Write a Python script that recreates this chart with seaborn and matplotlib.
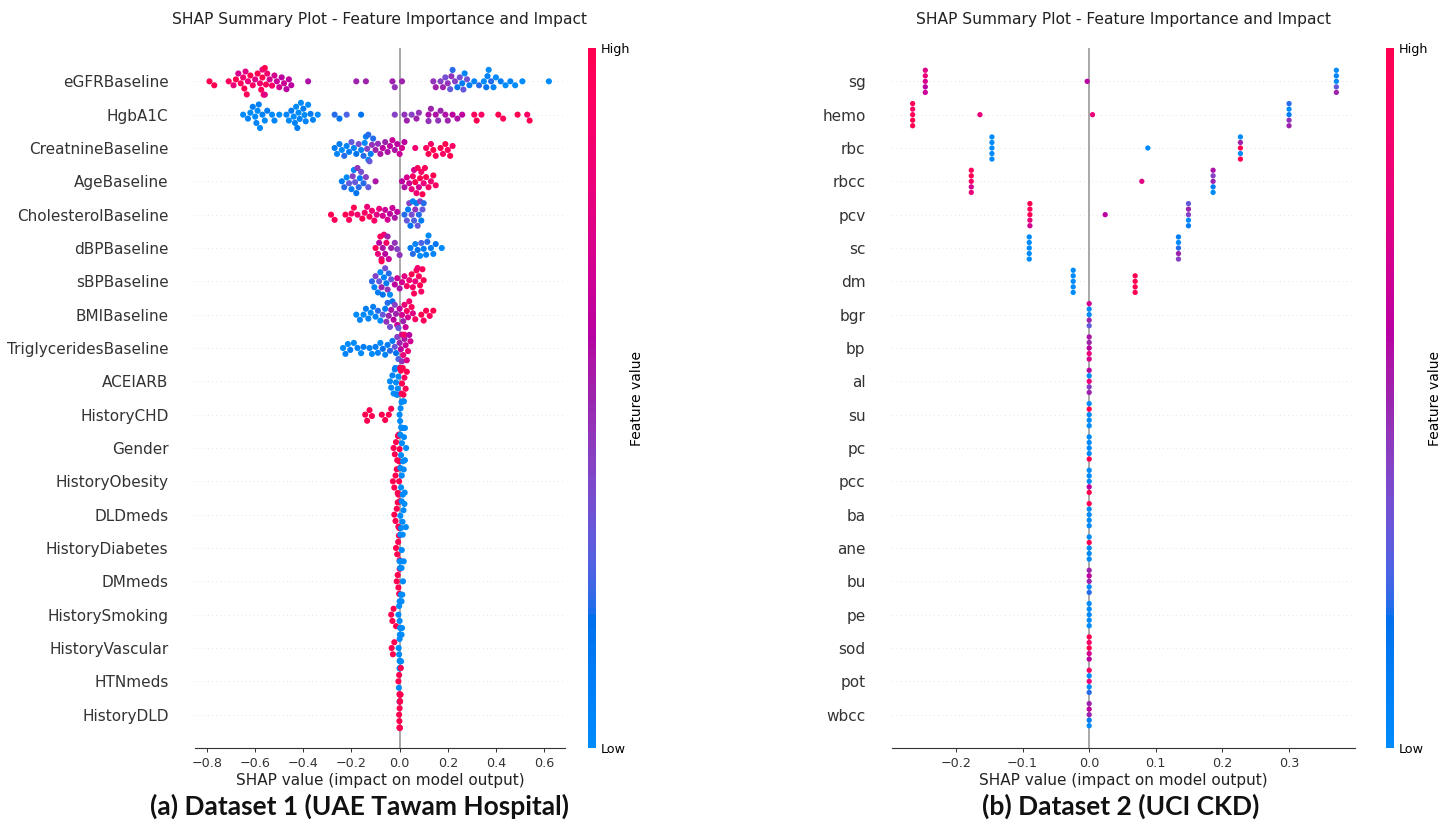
import warnings
warnings.filterwarnings("ignore")
import numpy as np
import pandas as pd
import matplotlib
matplotlib.use("Agg")
import matplotlib.pyplot as plt
import seaborn as sns
from matplotlib.colors import ListedColormap, Normalize
from matplotlib.cm import ScalarMappable

plt.rcParams["font.family"] = ["DejaVu Sans"]

# ---------------- Dataset 1 (UAE Tawam Hospital): (shap value, feature value 0=low..1=high)
features1 = ["eGFRBaseline", "HgbA1C", "CreatnineBaseline", "AgeBaseline", "CholesterolBaseline",
             "dBPBaseline", "sBPBaseline", "BMIBaseline", "TriglyceridesBaseline", "ACEIARB",
             "HistoryCHD", "Gender", "HistoryObesity", "DLDmeds", "HistoryDiabetes", "DMmeds",
             "HistorySmoking", "HistoryVascular", "HTNmeds", "HistoryDLD"]

egfr = [(-0.79, 1.0), (-0.77, 1.0), (-0.71, 0.95), (-0.69, 0.8), (-0.68, 1.0), (-0.67, 0.7),
        (-0.66, 0.95), (-0.65, 0.85), (-0.645, 1.0), (-0.64, 0.75), (-0.635, 0.95), (-0.63, 0.8),
        (-0.62, 1.0), (-0.61, 0.9), (-0.60, 0.75), (-0.59, 1.0), (-0.58, 0.85), (-0.575, 0.95),
        (-0.57, 1.0), (-0.57, 0.8), (-0.565, 0.9), (-0.56, 1.0), (-0.56, 0.75), (-0.555, 0.95),
        (-0.55, 0.85), (-0.54, 0.7), (-0.53, 0.9), (-0.52, 0.7), (-0.51, 0.65), (-0.50, 0.7),
        (-0.49, 0.6), (-0.48, 0.65), (-0.47, 0.6), (-0.46, 0.62), (-0.45, 0.6), (-0.38, 0.55),
        (-0.18, 0.5), (-0.14, 0.5), (-0.03, 0.5), (-0.02, 0.45), (0.01, 0.5),
        (0.14, 0.45), (0.15, 0.5), (0.17, 0.4), (0.18, 0.5), (0.19, 0.35), (0.20, 0.45),
        (0.21, 0.3), (0.215, 0.45), (0.22, 0.2), (0.23, 0.4), (0.24, 0.15), (0.25, 0.35),
        (0.26, 0.1), (0.265, 0.3), (0.27, 0.05), (0.28, 0.35), (0.29, 0.1), (0.31, 0.05),
        (0.33, 0.2), (0.35, 0.0), (0.36, 0.15), (0.365, 0.05), (0.37, 0.0), (0.38, 0.2),
        (0.39, 0.05), (0.40, 0.0), (0.42, 0.1), (0.44, 0.0), (0.46, 0.05), (0.48, 0.0),
        (0.51, 0.0), (0.62, 0.0)]
hgba1c = [(-0.65, 0.0), (-0.63, 0.05), (-0.62, 0.0), (-0.61, 0.1), (-0.60, 0.0), (-0.595, 0.05),
          (-0.59, 0.0), (-0.585, 0.1), (-0.58, 0.0), (-0.57, 0.05), (-0.56, 0.0), (-0.55, 0.1),
          (-0.53, 0.0), (-0.52, 0.05), (-0.50, 0.0), (-0.47, 0.05), (-0.46, 0.0), (-0.45, 0.1),
          (-0.44, 0.0), (-0.435, 0.05), (-0.43, 0.0), (-0.425, 0.1), (-0.42, 0.0), (-0.415, 0.05),
          (-0.41, 0.0), (-0.40, 0.1), (-0.395, 0.0), (-0.39, 0.05), (-0.38, 0.0), (-0.37, 0.1),
          (-0.36, 0.05), (-0.34, 0.0), (-0.27, 0.2), (-0.25, 0.15), (-0.22, 0.25), (-0.16, 0.15),
          (-0.02, 0.4), (0.02, 0.45), (0.03, 0.5), (0.05, 0.4), (0.07, 0.5), (0.08, 0.45),
          (0.12, 0.55), (0.12, 0.45), (0.13, 0.5), (0.15, 0.55), (0.16, 0.45), (0.17, 0.5),
          (0.19, 0.55), (0.20, 0.5), (0.22, 0.6), (0.24, 0.55), (0.26, 0.6), (0.31, 0.95),
          (0.32, 1.0), (0.34, 0.9), (0.41, 1.0), (0.43, 0.95), (0.49, 1.0), (0.53, 0.9), (0.54, 1.0)]
creat = [(-0.27, 0.1), (-0.26, 0.05), (-0.25, 0.1), (-0.24, 0.0), (-0.23, 0.2), (-0.22, 0.05),
         (-0.21, 0.1), (-0.20, 0.3), (-0.19, 0.05), (-0.18, 0.15), (-0.17, 0.35), (-0.16, 0.05),
         (-0.15, 0.2), (-0.145, 0.0), (-0.14, 0.1), (-0.135, 0.4), (-0.13, 0.05), (-0.13, 0.2),
         (-0.125, 0.3), (-0.12, 0.1), (-0.115, 0.45), (-0.11, 0.2), (-0.10, 0.5), (-0.09, 0.45),
         (-0.08, 0.55), (-0.07, 0.6), (-0.06, 0.5), (-0.05, 0.55), (-0.04, 0.6), (-0.03, 0.65),
         (-0.02, 0.55), (-0.01, 0.6), (0.0, 0.65), (0.01, 0.7), (0.02, 0.6), (0.065, 0.85),
         (0.11, 0.95), (0.12, 1.0), (0.13, 0.9), (0.14, 1.0), (0.15, 0.95), (0.17, 1.0),
         (0.18, 0.9), (0.19, 1.0), (0.20, 0.95), (0.21, 1.0), (0.22, 0.9)]
age = [(-0.24, 0.1), (-0.23, 0.2), (-0.22, 0.0), (-0.21, 0.3), (-0.20, 0.1), (-0.195, 0.4),
       (-0.19, 0.05), (-0.185, 0.3), (-0.18, 0.15), (-0.175, 0.45), (-0.17, 0.2), (-0.165, 0.1),
       (-0.16, 0.35), (-0.15, 0.2), (-0.14, 0.4), (-0.13, 0.3), (-0.10, 0.55), (0.01, 0.6),
       (0.02, 0.55), (0.03, 0.7), (0.04, 0.65), (0.05, 0.8), (0.055, 0.9), (0.06, 0.7),
       (0.065, 1.0), (0.07, 0.85), (0.075, 0.95), (0.08, 0.7), (0.085, 1.0), (0.09, 0.9),
       (0.095, 1.0), (0.10, 0.8), (0.105, 0.95), (0.11, 1.0), (0.12, 0.9), (0.13, 0.85),
       (0.14, 1.0), (0.15, 0.9)]
chol = [(-0.285, 1.0), (-0.27, 0.95), (-0.225, 1.0), (-0.21, 0.95), (-0.20, 0.9), (-0.19, 1.0),
        (-0.175, 0.85), (-0.155, 1.0), (-0.145, 0.9), (-0.135, 0.8), (-0.125, 0.95), (-0.115, 0.85),
        (-0.105, 0.9), (-0.095, 0.75), (-0.085, 0.8), (-0.07, 0.7), (-0.06, 0.65), (-0.05, 0.7),
        (-0.04, 0.6), (-0.03, 0.65), (-0.02, 0.55), (-0.01, 0.6), (0.02, 0.2), (0.03, 0.3),
        (0.035, 0.1), (0.04, 0.4), (0.045, 0.15), (0.05, 0.35), (0.055, 0.05), (0.06, 0.25),
        (0.065, 0.45), (0.07, 0.1), (0.075, 0.3), (0.08, 0.2), (0.085, 0.4), (0.09, 0.1),
        (0.095, 0.3), (0.10, 0.2)]
dbp = [(-0.10, 1.0), (-0.09, 0.8), (-0.085, 0.6), (-0.08, 0.95), (-0.075, 0.7), (-0.075, 1.0),
       (-0.07, 0.55), (-0.065, 0.85), (-0.06, 0.6), (-0.055, 0.9), (-0.05, 0.5), (-0.045, 0.65),
       (-0.035, 0.5), (-0.02, 0.45), (-0.01, 0.4), (0.0, 0.45), (0.045, 0.1), (0.055, 0.2),
       (0.065, 0.05), (0.075, 0.15), (0.085, 0.0), (0.09, 0.25), (0.10, 0.1), (0.11, 0.05),
       (0.115, 0.2), (0.12, 0.0), (0.13, 0.1), (0.14, 0.05), (0.15, 0.15), (0.175, 0.0)]
sbp = [(-0.115, 0.2), (-0.105, 0.05), (-0.10, 0.4), (-0.09, 0.1), (-0.085, 0.3), (-0.08, 0.0),
       (-0.075, 0.5), (-0.07, 0.15), (-0.065, 0.05), (-0.06, 0.35), (-0.055, 0.1), (-0.05, 0.45),
       (-0.045, 0.2), (-0.04, 0.0), (-0.035, 0.3), (-0.02, 0.6), (-0.01, 0.65), (0.0, 0.55),
       (0.01, 0.7), (0.02, 0.75), (0.03, 0.9), (0.04, 0.85), (0.05, 1.0), (0.055, 0.9),
       (0.06, 0.95), (0.065, 0.8), (0.07, 1.0), (0.075, 0.85), (0.08, 0.95), (0.085, 1.0),
       (0.09, 0.9), (0.095, 0.95), (0.10, 1.0)]
bmi = [(-0.18, 0.0), (-0.165, 0.05), (-0.15, 0.0), (-0.14, 0.1), (-0.13, 0.05), (-0.12, 0.0),
       (-0.11, 0.1), (-0.10, 0.05), (-0.09, 0.2), (-0.08, 0.0), (-0.07, 0.3), (-0.06, 0.1),
       (-0.055, 0.45), (-0.05, 0.2), (-0.045, 0.5), (-0.04, 0.35), (-0.035, 0.55), (-0.03, 0.15),
       (-0.025, 0.6), (-0.02, 0.4), (-0.015, 0.5), (-0.01, 0.65), (-0.005, 0.3), (0.0, 0.6),
       (0.01, 0.7), (0.015, 0.5), (0.02, 0.8), (0.025, 0.65), (0.03, 0.9), (0.035, 0.7),
       (0.04, 0.85), (0.05, 0.95), (0.055, 0.75), (0.065, 0.9), (0.09, 1.0), (0.10, 0.95),
       (0.11, 1.0), (0.125, 0.95), (0.14, 1.0)]
trig = [(-0.235, 0.0), (-0.225, 0.05), (-0.215, 0.0), (-0.205, 0.1), (-0.19, 0.0), (-0.175, 0.05),
        (-0.16, 0.0), (-0.15, 0.1), (-0.125, 0.05), (-0.115, 0.0), (-0.10, 0.1), (-0.09, 0.05),
        (-0.08, 0.0), (-0.07, 0.15), (-0.06, 0.05), (-0.05, 0.1), (-0.04, 0.2), (-0.03, 0.1),
        (-0.02, 0.3), (-0.015, 0.15), (-0.01, 0.4), (-0.005, 0.25), (0.0, 0.5), (0.005, 0.6),
        (0.01, 0.7), (0.01, 0.45), (0.015, 0.8), (0.02, 0.55), (0.02, 0.9), (0.025, 0.65),
        (0.03, 0.75), (0.035, 0.85), (0.04, 0.6), (0.045, 0.7)]
aceiarb = [(-0.04, 0.0), (-0.035, 0.0), (-0.03, 0.05), (-0.025, 0.0), (-0.02, 0.0), (-0.018, 0.1),
           (-0.015, 0.0), (-0.012, 0.0), (-0.01, 0.05), (-0.008, 0.0), (-0.005, 0.0), (-0.003, 0.0),
           (0.002, 1.0), (0.005, 1.0), (0.008, 0.95), (0.01, 1.0), (0.013, 1.0), (0.016, 1.0),
           (0.02, 0.95), (0.025, 1.0), (0.03, 1.0)]
hist_chd = [(-0.143, 1.0), (-0.135, 1.0), (-0.125, 1.0), (-0.115, 1.0), (-0.074, 1.0), (-0.06, 1.0),
            (-0.045, 1.0), (-0.035, 1.0), (0.0, 0.0), (0.002, 0.0), (0.004, 0.0), (0.006, 0.0),
            (0.008, 0.0), (0.01, 0.0), (0.012, 0.0), (0.015, 0.0), (0.018, 0.0), (0.022, 0.0)]
gender = [(-0.025, 1.0), (-0.02, 1.0), (-0.015, 1.0), (-0.01, 1.0), (-0.007, 1.0), (-0.004, 1.0),
          (-0.002, 1.0), (0.0, 1.0), (0.003, 0.0), (0.006, 0.0), (0.01, 0.0), (0.014, 0.0),
          (0.018, 0.0), (0.022, 0.0), (0.027, 0.0)]
hist_obesity = [(-0.028, 1.0), (-0.022, 1.0), (-0.017, 1.0), (-0.012, 1.0), (-0.008, 1.0),
                (-0.005, 1.0), (-0.002, 1.0), (0.001, 1.0), (0.003, 0.0), (0.006, 0.0),
                (0.009, 0.0), (0.013, 0.0), (0.017, 0.0), (0.021, 0.0)]
dld_meds = [(-0.022, 1.0), (-0.017, 1.0), (-0.012, 1.0), (-0.008, 1.0), (-0.005, 1.0), (-0.002, 1.0),
            (0.0, 1.0), (0.003, 0.0), (0.006, 0.0), (0.009, 0.0), (0.012, 0.0), (0.016, 0.0),
            (0.02, 0.0), (0.026, 0.0)]
hist_diabetes = [(-0.015, 1.0), (-0.01, 1.0), (-0.006, 1.0), (-0.003, 1.0), (0.0, 1.0), (0.0, 0.0),
                 (0.003, 0.0), (0.006, 0.0), (0.009, 0.0), (0.013, 0.0), (0.017, 0.0)]
dm_meds = [(-0.012, 1.0), (-0.008, 1.0), (-0.005, 1.0), (-0.002, 1.0), (0.0, 1.0), (0.002, 0.0),
           (0.005, 0.0), (0.008, 0.0), (0.011, 0.0), (0.014, 0.0)]
hist_smoking = [(-0.035, 1.0), (-0.03, 1.0), (-0.025, 1.0), (-0.015, 1.0), (-0.005, 0.0),
                (-0.002, 0.0), (0.0, 0.0), (0.0, 0.0), (0.002, 0.0), (0.004, 0.0), (0.006, 0.0),
                (0.008, 0.0), (0.01, 0.0)]
hist_vascular = [(-0.033, 1.0), (-0.028, 1.0), (-0.022, 1.0), (-0.004, 0.0), (-0.002, 0.0),
                 (0.0, 0.0), (0.0, 0.0), (0.001, 0.0), (0.002, 0.0), (0.004, 0.0), (0.006, 0.0),
                 (0.008, 0.0)]
htn_meds = [(-0.005, 1.0), (-0.003, 0.0), (-0.002, 1.0), (0.0, 1.0), (0.0, 0.0), (0.0, 1.0),
            (0.001, 0.0), (0.002, 1.0), (0.003, 0.0), (0.004, 1.0), (0.005, 1.0)]
hist_dld = [(-0.002, 1.0), (-0.001, 1.0), (0.0, 1.0), (0.0, 1.0), (0.0, 1.0), (0.0, 0.0),
            (0.0, 1.0), (0.001, 1.0), (0.001, 1.0), (0.002, 1.0)]

# ---------------- Dataset 2 (UCI CKD)
features2 = ["sg", "hemo", "rbc", "rbcc", "pcv", "sc", "dm", "bgr", "bp", "al", "su", "pc",
             "pcc", "ba", "ane", "bu", "pe", "sod", "pot", "wbcc"]
sg = [(-0.246, 0.7), (-0.246, 0.6), (-0.246, 0.8), (-0.246, 0.65), (-0.246, 0.75), (-0.003, 0.6),
      (0.371, 0.0), (0.371, 0.3), (0.371, 0.05), (0.371, 0.5), (0.371, 0.0)]
hemo = [(-0.265, 0.95), (-0.265, 1.0), (-0.265, 0.9), (-0.265, 1.0), (-0.265, 0.95), (-0.164, 0.8),
        (0.005, 0.8), (0.30, 0.1), (0.30, 0.45), (0.30, 0.0), (0.30, 0.5), (0.30, 0.2)]
rbc = [(-0.146, 0.0), (-0.146, 0.0), (-0.146, 0.0), (-0.146, 0.0), (-0.146, 0.0), (0.088, 0.0),
       (0.227, 1.0), (0.227, 0.0), (0.227, 0.5), (0.227, 1.0), (0.227, 0.0)]
rbcc = [(-0.177, 0.9), (-0.177, 0.7), (-0.177, 1.0), (-0.177, 0.8), (-0.177, 0.95), (0.079, 0.75),
        (0.186, 0.5), (0.186, 0.1), (0.186, 0.4), (0.186, 0.0), (0.186, 0.55)]
pcv = [(-0.089, 1.0), (-0.089, 0.8), (-0.089, 0.95), (-0.089, 0.7), (-0.089, 1.0), (0.024, 0.6),
       (0.149, 0.4), (0.149, 0.0), (0.149, 0.5), (0.149, 0.1), (0.149, 0.3)]
sc = [(-0.09, 0.0), (-0.09, 0.0), (-0.09, 0.0), (-0.09, 0.0), (-0.09, 0.0),
      (0.134, 0.2), (0.134, 0.5), (0.134, 0.0), (0.134, 0.4), (0.134, 0.1)]
dm = [(-0.024, 0.0), (-0.024, 0.0), (-0.024, 0.0), (-0.024, 0.0), (-0.024, 0.0),
      (0.069, 1.0), (0.069, 1.0), (0.069, 1.0), (0.069, 1.0)]
bgr = [(0.0, 0.0), (0.0, 0.5), (0.0, 0.0), (0.0, 0.7), (0.0, 0.3)]
bp = [(0.0, 0.6), (0.0, 0.8), (0.0, 0.5), (0.0, 0.7), (0.0, 0.55)]
al = [(0.0, 0.8), (0.0, 0.4), (0.0, 0.0), (0.0, 0.5), (0.0, 0.6)]
su = [(0.0, 0.0), (0.0, 0.0), (0.0, 1.0), (0.0, 0.0), (0.0, 0.0)]
pc = [(0.0, 0.0), (0.0, 0.0), (0.0, 0.0), (0.0, 1.0), (0.0, 0.0)]
pcc = [(0.0, 0.0), (0.0, 0.6), (0.0, 0.0), (0.0, 1.0), (0.0, 0.0)]
ba = [(0.0, 0.0), (0.0, 0.0), (0.0, 0.0), (0.0, 0.0), (0.0, 1.0)]
ane = [(0.0, 0.0), (0.0, 0.0), (0.0, 1.0), (0.0, 0.0), (0.0, 0.0)]
bu = [(0.0, 0.5), (0.0, 0.0), (0.0, 0.6), (0.0, 0.2), (0.0, 0.5)]
pe = [(0.0, 0.0), (0.0, 0.0), (0.0, 0.0), (0.0, 0.0), (0.0, 0.0)]
sod = [(0.0, 1.0), (0.0, 0.7), (0.0, 0.9), (0.0, 0.6), (0.0, 1.0)]
pot = [(0.0, 0.8), (0.0, 0.0), (0.0, 0.0), (0.0, 0.2), (0.0, 0.9)]
wbcc = [(0.0, 0.5), (0.0, 0.1), (0.0, 0.6), (0.0, 0.0), (0.0, 0.5)]

captions = ["(a) Dataset 1 (UAE Tawam Hospital)", "(b) Dataset 2 (UCI CKD)"]
title = "SHAP Summary Plot - Feature Importance and Impact"

rows1 = [egfr, hgba1c, creat, age, chol, dbp, sbp, bmi, trig, aceiarb, hist_chd, gender,
         hist_obesity, dld_meds, hist_diabetes, dm_meds, hist_smoking, hist_vascular, htn_meds, hist_dld]
rows2 = [sg, hemo, rbc, rbcc, pcv, sc, dm, bgr, bp, al, su, pc, pcc, ba, ane, bu, pe, sod, pot, wbcc]


def frame(names, rows):
    recs = [(n, s, v) for n, pts in zip(names, rows) for s, v in pts]
    return pd.DataFrame(recs, columns=["feature", "shap", "fval"])


# SHAP-like red_blue colormap (LCh interpolation)
def lch2rgb(l, c, h):
    a, b = c * np.cos(h), c * np.sin(h)
    fy = (l + 16) / 116.0
    fx, fz = fy + a / 500.0, fy - b / 200.0
    finv = lambda t: np.where(t ** 3 > 0.008856, t ** 3, (t - 16 / 116.0) / 7.787)
    xyz = np.array([0.95047 * finv(fx), finv(fy), 1.08883 * finv(fz)])
    M = np.array([[3.2406, -1.5372, -0.4986], [-0.9689, 1.8758, 0.0415], [0.0557, -0.2040, 1.0570]])
    rgb = M @ xyz
    rgb = np.where(rgb > 0.0031308, 1.055 * np.abs(rgb) ** (1 / 2.4) - 0.055, 12.92 * rgb)
    return np.clip(rgb, 0, 1)


nsteps = 100
l_vals = list(np.linspace(54, 40, nsteps // 2)) + list(np.linspace(40, 54, nsteps // 2))
c_vals = np.linspace(70, 90, nsteps)
h_vals = np.linspace(4.6588, 0.35470565 + 2 * np.pi, nsteps)
red_blue = ListedColormap([lch2rgb(l, c, h) for l, c, h in zip(l_vals, c_vals, h_vals)])

W, H = 1445, 834
fig = plt.figure(figsize=(W / 100, H / 100), dpi=100)


def panel(names, rows, ax_px, cb_px, caption_xy, msize):
    x0, x1, xlim = ax_px
    top, bot = 48, 748
    ax = fig.add_axes([x0 / W, 1 - bot / H, (x1 - x0) / W, (bot - top) / H])
    df = frame(names, rows)
    n = len(names)
    for i in range(n):
        ax.axhline(i, color="#cccccc", lw=0.5, dashes=(1, 5), zorder=-1)
    ax.axvline(0, color="#999999", lw=1.2, zorder=-1)
    sns.swarmplot(data=df, x="shap", y="feature", hue="fval", order=names, orient="h",
                  palette=red_blue, hue_norm=(0, 1), size=msize, linewidth=0, legend=False,
                  ax=ax, zorder=3)
    ax.set_xlim(*xlim)
    ax.set_ylim(n, -1)
    ax.set_yticks(range(n))
    ax.set_yticklabels(names, fontsize=11, color="#333333")
    ax.set_ylabel("")
    ax.set_xlabel("SHAP value (impact on model output)", fontsize=11, color="#222222", labelpad=2)
    ax.tick_params(axis="y", length=0, pad=19)
    ax.tick_params(axis="x", labelsize=9.2, labelcolor="#333333", color="#333333",
                   length=2.8, width=0.7)
    for s in ["top", "right", "left"]:
        ax.spines[s].set_visible(False)
    ax.spines["bottom"].set_color("#333333")
    ax.spines["bottom"].set_linewidth(0.8)
    ax.set_title(title, fontsize=11.2, pad=17, color="#222222")

    cx = cb_px
    cax = fig.add_axes([cx / W, 1 - bot / H, 8 / W, (bot - top) / H])
    sm = ScalarMappable(norm=Normalize(0, 1), cmap=red_blue)
    cb = fig.colorbar(sm, cax=cax, ticks=[0, 1])
    cb.set_ticklabels(["Low", "High"])
    cb.set_label("Feature value", size=10, labelpad=0)
    cb.ax.tick_params(labelsize=9.2, length=0)
    cb.outline.set_visible(False)

    fig.text(caption_xy[0] / W, 1 - caption_xy[1] / H, caption_xy[2], ha="center", va="center",
             fontsize=19, fontweight="bold", family=["Lato", "DejaVu Sans"], color="#111111")


panel(features1, rows1, (195, 565, (-0.85, 0.687)), 588, (359, 806, captions[0]), 4.4)
panel(features2, rows2, (892, 1355, (-0.296, 0.399)), 1386, (1121, 806, captions[1]), 3.8)

fig.savefig("out.png", dpi=100)
